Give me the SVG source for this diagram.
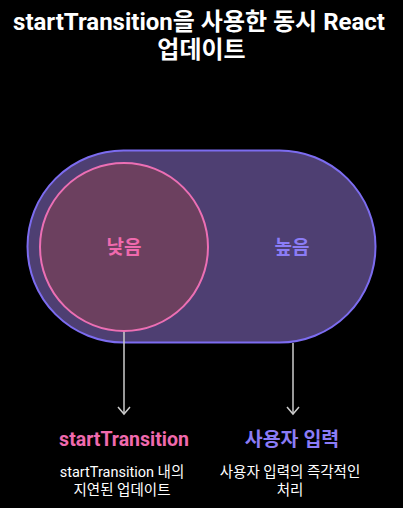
<svg xmlns="http://www.w3.org/2000/svg" width="403" height="508" viewBox="0 0 403 508">
<style>
.t{font-family:"Roboto","Noto Sans CJK KR",sans-serif;}
.title{font-size:24px;font-weight:700;fill:#ffffff;text-anchor:middle;}
.node{font-size:19px;font-weight:700;text-anchor:middle;}
.lbl{font-size:19.5px;font-weight:700;text-anchor:middle;}
.desc{font-size:14.5px;fill:#ffffff;text-anchor:middle;}
.conn{stroke:#cccccc;stroke-width:1.5;fill:none;}
</style>
<defs>
<marker id="arr" markerWidth="10" markerHeight="14" refX="8" refY="7" orient="auto" markerUnits="userSpaceOnUse" viewBox="0 0 10 14">
<path d="M1,1 L8,7 L1,13" stroke="#cccccc" stroke-width="1.5" fill="none"/>
</marker>
</defs>
<rect width="403" height="508" fill="#000000"/>
<text class="t title" x="199" y="30">startTransition을 사용한 동시 React</text>
<text class="t title" x="201.5" y="58">업데이트</text>
<g id="high">
<rect x="27.5" y="150.5" width="348" height="192" rx="96" ry="96" fill="#4e3f72" stroke="#7c6cf0" stroke-width="2"/>
<text class="t node" x="292" y="254" fill="#8b7cf6">높음</text>
</g>
<g id="low">
<circle cx="124" cy="247" r="84" fill="#6c405f" stroke="#ec6fb4" stroke-width="2"/>
<text class="t node" x="124" y="254" fill="#f06aae">낮음</text>
</g>
<g id="connectors">
<line class="conn" x1="124" y1="332" x2="124" y2="414" marker-end="url(#arr)"/>
<line class="conn" x1="293" y1="343" x2="293" y2="414" marker-end="url(#arr)"/>
</g>
<g id="label-start">
<text class="t lbl" x="124" y="446" fill="#f06aae">startTransition</text>
<text class="t desc" x="122" y="477">startTransition 내의</text>
<text class="t desc" x="122" y="495">지연된 업데이트</text>
</g>
<g id="label-user">
<text class="t lbl" x="292" y="446" fill="#8b7cf6">사용자 입력</text>
<text class="t desc" x="290" y="477">사용자 입력의 즉각적인</text>
<text class="t desc" x="290" y="495">처리</text>
</g>
</svg>
